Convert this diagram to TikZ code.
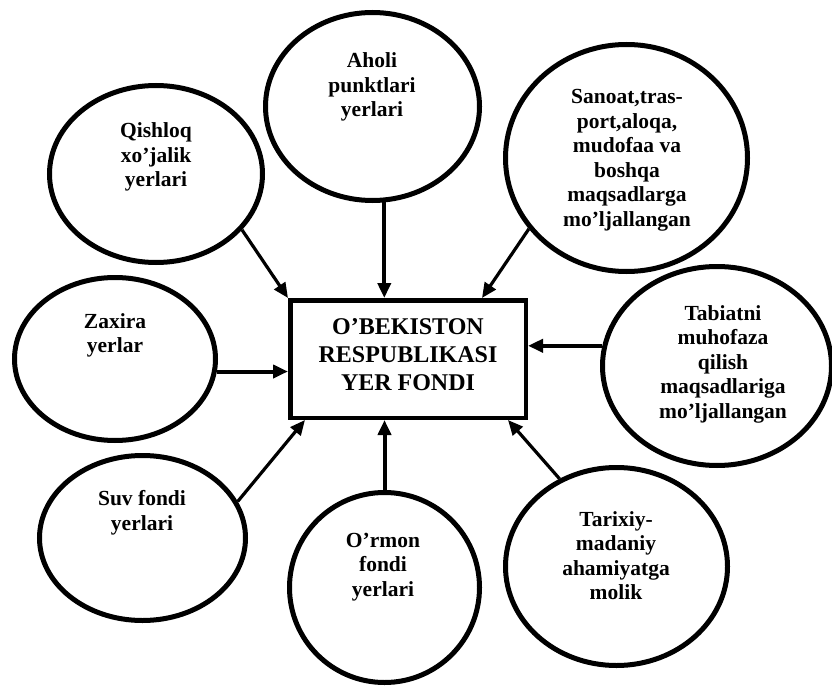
\documentclass[tikz,border=0pt]{standalone}
\usepackage{fontspec}
\setmainfont{Liberation Serif}
\usetikzlibrary{shapes.geometric,arrows.meta}

\begin{document}
\begin{tikzpicture}[x=1pt,y=-1pt,
    ell/.style={ellipse, draw, line width=5pt, inner sep=0pt},
    txt/.style={align=center, inner sep=0pt, font=\bfseries\fontsize{21.5}{24.5}\selectfont},
    arr/.style={line width=3.2pt, -{Triangle[length=15pt,width=13pt]}}]
    \useasboundingbox (0,0) rectangle (832,687);

    \node[draw, line width=4.5pt, minimum width=235.5pt, minimum height=117.5pt] (F) at (408,359) {};
    \node[align=center, inner sep=0pt, font=\bfseries\fontsize{24}{28}\selectfont] (Ft) at (408,355) {O’BEKISTON\\RESPUBLIKASI\\YER FONDI};

    \begin{scope}[every node/.style={ell}]
      \node[minimum width=213pt, minimum height=177pt] (Q) at (156,174) {};
      \node[minimum width=214pt, minimum height=188pt] (A) at (372.5,106.5) {};
      \node[minimum width=242pt, minimum height=227pt] (S) at (626.5,158) {};
      \node[minimum width=201pt, minimum height=163pt] (Z) at (115,359) {};
      \node[minimum width=229pt, minimum height=199pt] (T) at (717,366) {};
      \node[minimum width=206pt, minimum height=165pt] (V) at (142.5,538) {};
      \node[minimum width=190pt, minimum height=190pt] (O) at (384.5,587.5) {};
      \node[minimum width=222pt, minimum height=198pt] (M) at (616.5,566.5) {};
    \end{scope}

    \begin{scope}[every node/.style={txt}]
      \node (Qt) at (156,157) {Qishloq\\xo’jalik\\yerlari};
      \node (At) at (372,87) {Aholi\\punktlari\\yerlari};
      \node (St) at (627,160.5) {Sanoat,tras-\\port,aloqa,\\mudofaa va\\boshqa\\maqsadlarga\\mo’ljallangan};
      \node (Zt) at (115,335.5) {Zaxira\\yerlar};
      \node (Tt) at (723,364) {Tabiatni\\muhofaza\\qilish\\maqsadlariga\\mo’ljallangan};
      \node (Vt) at (142,512.5) {Suv fondi\\yerlari};
      \node (Ot) at (383,567) {O’rmon\\fondi\\yerlari};
      \node (Mt) at (616,555.5) {Tarixiy-\\madaniy\\ahamiyatga\\molik};
    \end{scope}

    \draw[arr] (Q.-33) -- (F.north west);
    \draw[arr, line width=4pt] (A.-83) -- (A.-83 |- F.north);
    \draw[arr] (S.216) -- ([xshift=-46pt]F.north east);
    \draw[arr, line width=4pt] (Z.-7) -- (Z.-7 -| F.west);
    \draw[arr, line width=4pt] (T.170) -- (T.170 -| F.east);
    \draw[arr] (V.21) -- ([xshift=17pt]F.south west);
    \draw[arr, line width=4pt] (O.north) -- (O.north |- F.south);
    \draw[arr] (M.123) -- ([xshift=-20pt]F.south east);
\end{tikzpicture}
\end{document}
